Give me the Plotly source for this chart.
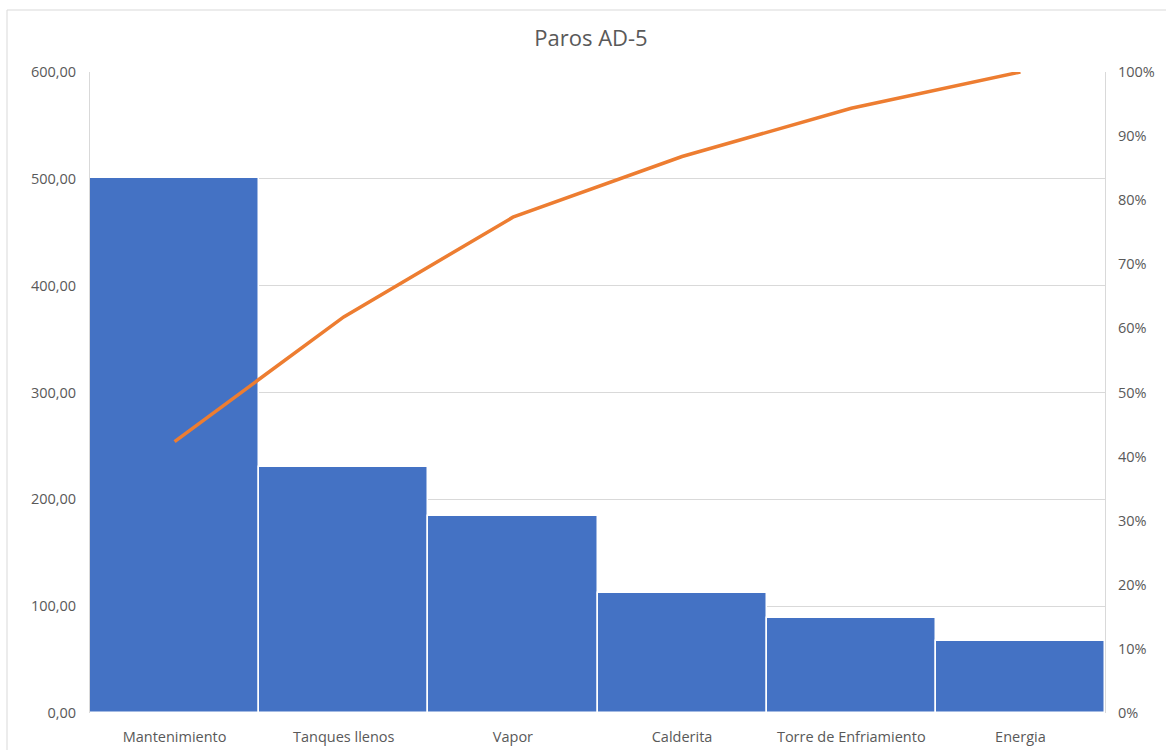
import plotly.graph_objects as go

# Paros AD-5: tiempo de paro por causa (Pareto)
categorias = ["Mantenimiento", "Tanques llenos", "Vapor", "Calderita",
              "Torre de Enfriamiento", "Energia"]
horas = [501, 230, 184, 112, 89, 67]

total = sum(horas)
acumulado = []
s = 0
for h in horas:
    s += h
    acumulado.append(s / total)

left_ticks = [0, 100, 200, 300, 400, 500, 600]
left_text = ["0,00", "100,00", "200,00", "300,00", "400,00", "500,00", "600,00"]
right_ticks = [i / 10 for i in range(11)]
right_text = [f"{i * 10}%" for i in range(11)]

W, H = 1166, 750
L, R, T, B = 90, 1105, 72, 713
font_fam = "Open Sans"
grey = "#595959"
grid = "#d9d9d9"
tick_size = 14.5

fig = go.Figure()
fig.add_trace(go.Bar(
    x=categorias, y=horas, width=1,
    marker=dict(color="#4472C4", line=dict(color="white", width=1.5)),
    yaxis="y", showlegend=False,
))
fig.add_trace(go.Scatter(
    x=categorias, y=acumulado, mode="lines",
    line=dict(color="#ED7D31", width=3.5),
    yaxis="y2", showlegend=False,
))

def px(xp):
    return (xp - L) / (R - L)

def py(yp):
    return (B - yp) / (B - T)

fig.update_layout(
    width=W, height=H,
    margin=dict(l=L, r=W - R, t=T, b=H - B, pad=0, autoexpand=False),
    paper_bgcolor="white", plot_bgcolor="white",
    bargap=0,
    title=dict(text="Paros AD-5", x=591 / W, xref="container",
               xanchor="center", y=1 - 38 / H, yanchor="middle",
               font=dict(family=font_fam, size=22, color=grey)),
    font=dict(family=font_fam, size=tick_size, color=grey),
    xaxis=dict(
        type="category", showgrid=False, showline=False, zeroline=False,
        ticks="", tickfont=dict(size=tick_size, color=grey),
        ticklabelstandoff=13, automargin=False,
        range=[-0.5, 5.5],
    ),
    yaxis=dict(
        range=[0, 600], tickvals=left_ticks, ticktext=left_text,
        showgrid=True, gridcolor=grid, gridwidth=1,
        showline=True, linecolor=grid, linewidth=1,
        zeroline=False, ticks="", ticklabelstandoff=10, automargin=False,
        tickfont=dict(size=tick_size, color=grey),
    ),
    yaxis2=dict(
        range=[0, 1], tickvals=right_ticks, ticktext=right_text,
        overlaying="y", side="right", showgrid=False,
        showline=True, linecolor=grid, linewidth=1,
        zeroline=False, ticks="", ticklabelstandoff=9, automargin=False,
        tickfont=dict(size=tick_size, color=grey),
    ),
    shapes=[dict(
        type="rect", xref="paper", yref="paper",
        x0=px(7), x1=px(1175), y0=py(760), y1=py(10),
        line=dict(color="#d9d9d9", width=1), fillcolor="rgba(0,0,0,0)",
        layer="below",
    )],
)

fig.write_html("out.html")
